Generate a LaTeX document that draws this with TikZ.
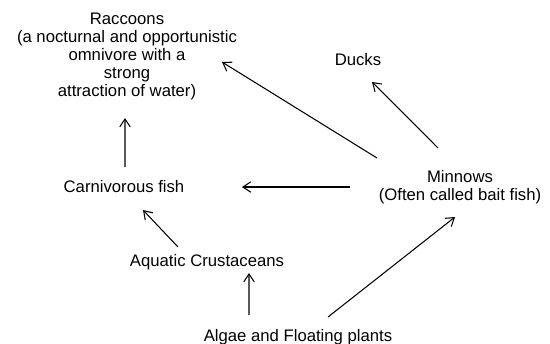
\documentclass[tikz,border=0pt]{standalone}
\usepackage{fontspec}
\setmainfont{Liberation Sans}
\usetikzlibrary{positioning,arrows.meta}

\begin{document}
\begin{tikzpicture}[
        every node/.style={align=center, inner sep=2pt,
          font=\fontsize{9.5}{10.2}\selectfont},
        arrow/.style={-{Straight Barb[length=4.5pt,width=6pt]}, line width=0.6pt}]

        \useasboundingbox (0,0) rectangle (11,-6.86);

        %%% Top of the food web
        % Raccoons
        \node (raccoons) at (2.54,-1.13) {Raccoons\\(a nocturnal and opportunistic\\omnivore with a\\strong\\attraction of water)};
        % Ducks
        \node (ducks) at (7.16,-1.2) {Ducks};

        %%% Middle row
        \node (carnfish) at (2.48,-3.74) {Carnivorous fish};
        \node (minnows) at (9.2,-3.74) {Minnows\\(Often called bait fish)};

        %%% Lower rows
        \node (crustaceans) at (4.14,-5.24) {Aquatic Crustaceans};
        \node (algae) at (5.96,-6.74) {Algae and Floating plants};

        %%% Arrows: who is eaten by whom
        \draw[arrow] ([shift={(-0.44,0.78)}]minnows.center) -- ([shift={(0.28,-0.44)}]ducks.center);
        \draw[arrow] ([shift={(-1.66,0.58)}]minnows.center) -- ([shift={(1.9,-0.11)}]raccoons.center);
        \draw[arrow] ([shift={(-2.2,0)}]minnows.center) -- ([shift={(2.36,0)}]carnfish.center);
        \draw[arrow] ([shift={(0.02,0.4)}]carnfish.center) -- ([shift={(-0.04,-1.23)}]raccoons.center);
        \draw[arrow] ([shift={(-0.58,0.3)}]crustaceans.center) -- ([shift={(0.38,-0.46)}]carnfish.center);
        \draw[arrow] ([shift={(-0.98,0.44)}]algae.center) -- ([shift={(0.84,-0.22)}]crustaceans.center);
        \draw[arrow] ([shift={(0.6,0.4)}]algae.center) -- ([shift={(-0.1,-0.6)}]minnows.center);
      \end{tikzpicture}
\end{document}
